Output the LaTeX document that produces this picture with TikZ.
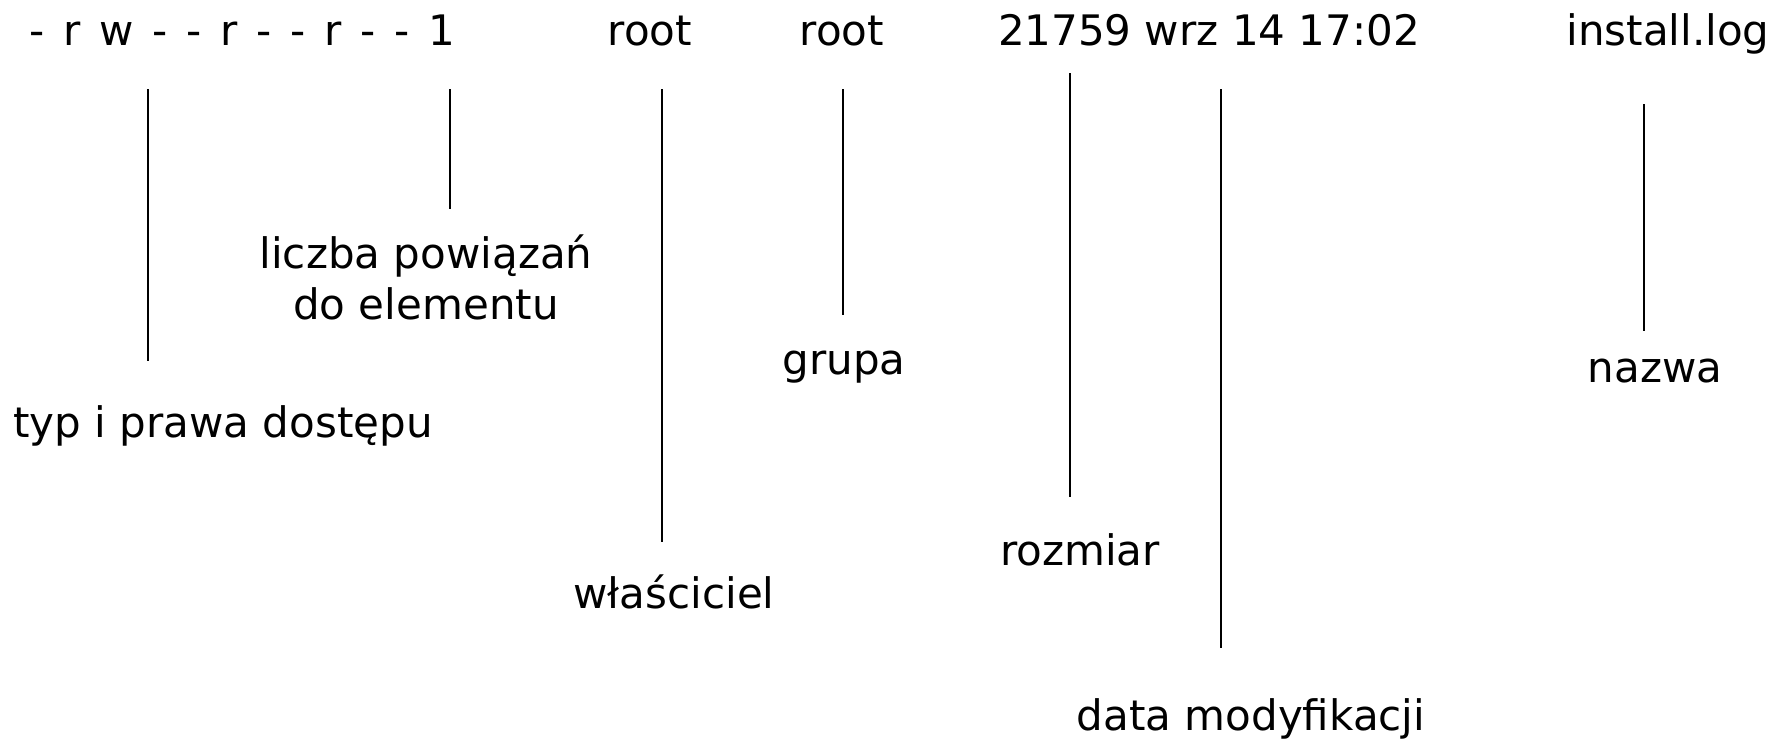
\documentclass[tikz,border=0pt]{standalone}
\usepackage{fontspec}
\setmainfont{DejaVu Sans}
\newcommand\pgap{\hspace{9.4pt}}
\begin{document}
\begin{tikzpicture}[x=0.5pt,y=-0.5pt,
  lbl/.style={font=\fontsize{21}{25.5}\selectfont, inner sep=0pt, anchor=base},
  tick/.style={line width=0.9pt, black}]
\useasboundingbox (0,0) rectangle (1789,739);
% top row
\node[lbl] (perm) at (242,45) {-\pgap r\pgap w\pgap -\pgap -\pgap r\pgap -\pgap -\pgap r\pgap -\pgap -\pgap 1};
\node[lbl] (own) at (650,45) {root};
\node[lbl] (grp) at (842,45) {root};
\node[lbl] (date) at (1209,45) {21759 wrz 14 17:02};
\node[lbl] (name) at (1668,45) {install.log};
% labels
\node[lbl] (ltyp) at (223,437) {typ i prawa dostępu};
\node[lbl, align=center, anchor=north] (llicz) at (426,234) {liczba powiązań\\do elementu};
\node[lbl] (lwl) at (674,608) {właściciel};
\node[lbl] (lgr) at (844,374) {grupa};
\node[lbl] (lroz) at (1080,565) {rozmiar};
\node[lbl] (ldata) at (1251,730) {data modyfikacji};
\node[lbl] (lnaz) at (1655,382) {nazwa};
% line ends
\coordinate (a1) at (148,89);  \coordinate (a2) at (148,361);
\coordinate (b1) at (450,89);  \coordinate (b2) at (450,209);
\coordinate (c1) at (662,89);  \coordinate (c2) at (662,542);
\coordinate (d1) at (843,89);  \coordinate (d2) at (843,315);
\coordinate (e1) at (1070,73); \coordinate (e2) at (1070,497);
\coordinate (f1) at (1221,89); \coordinate (f2) at (1221,648);
\coordinate (g1) at (1644,104); \coordinate (g2) at (1644,331);
\draw[tick] (a1) -- (a2);
\draw[tick] (b1) -- (b2);
\draw[tick] (c1) -- (c2);
\draw[tick] (d1) -- (d2);
\draw[tick] (e1) -- (e2);
\draw[tick] (f1) -- (f2);
\draw[tick] (g1) -- (g2);
\end{tikzpicture}
\end{document}
